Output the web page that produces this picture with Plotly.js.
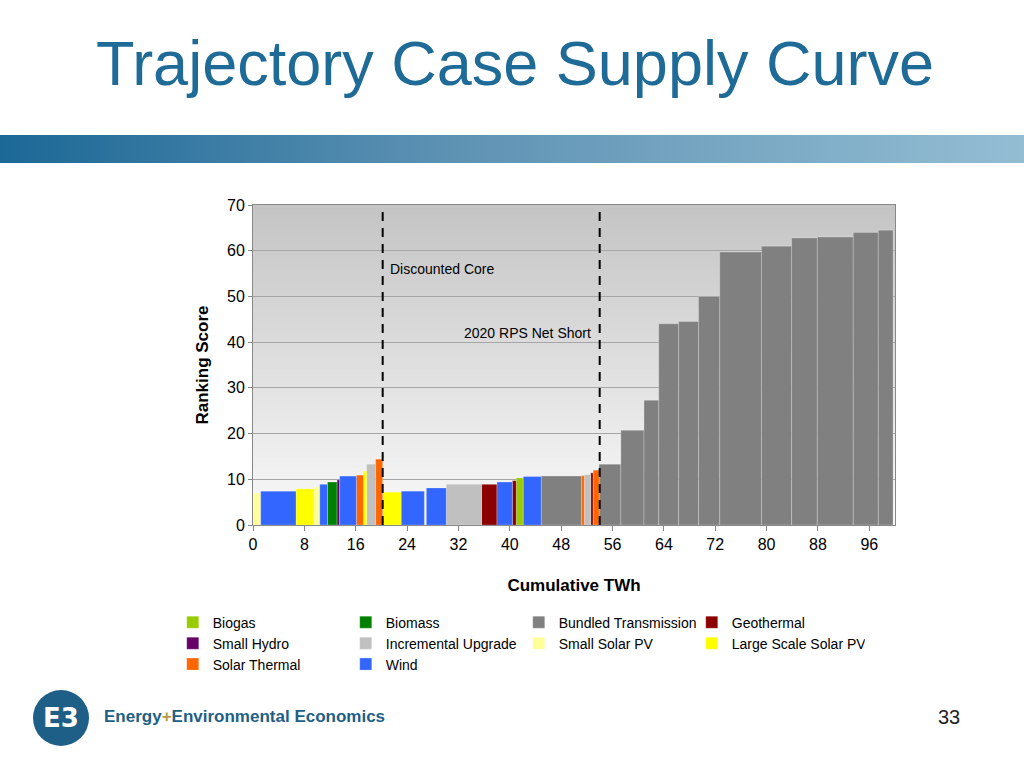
<!DOCTYPE html>
<html>
<head>
<meta charset="utf-8">
<script src="https://cdn.plot.ly/plotly-3.0.1.min.js"></script>
<style>
  body { margin: 0; background: #fff; font-family: Arial, "Liberation Sans", sans-serif; }
  #page { position: relative; width: 1024px; height: 768px; overflow: hidden; }
  #banner { position: absolute; left: 0; top: 135px; width: 1024px; height: 28px;
            background: linear-gradient(to right, #1b6896, #5f93b4 45%, #93bdd3); }
  #plotbg { position: absolute; left: 253px; top: 205px; width: 642px; height: 320px;
            background: linear-gradient(to bottom, #c4c4c4, #fafafa); }
  #title { position: absolute; left: 96px; top: 27px; font-size: 63px; color: #1f6b97; }
  #chart { position: absolute; left: 0; top: 0; width: 1024px; height: 768px; }
  #logo { position: absolute; left: 33px; top: 690px; width: 56px; height: 56px; border-radius: 50%;
          background: #1d5f86; color: #fff; font: bold 26px "DejaVu Sans"; text-align: center; line-height: 56px; }
  #logotext { position: absolute; left: 104px; top: 707px; font: bold 17px "Liberation Sans Narrow", "Liberation Sans"; color: #1d5f86; }
  #logotext span { color: #b89a3e; }
  #pagenum { position: absolute; left: 938px; top: 706px; font-size: 20px; color: #222; }
</style>
</head>
<body>
<div id="page">
  <div id="banner"></div>
  <div id="plotbg"></div>
  <div id="title">Trajectory Case Supply Curve</div>
  <div id="chart"></div>
  <div id="logo">E3</div>
  <div id="logotext">Energy<span>+</span>Environmental Economics</div>
  <div id="pagenum">33</div>
</div>
<script>
// resource blocks along the supply curve (TWh start/end, ranking score, resource type)
const segStart = [0, 1.2, 6.7, 9.5, 10.4, 11.6, 13.1, 13.5, 16.1, 17.2, 17.7, 19.1, 20.2, 23.1, 26.7, 27.0, 30.1, 35.6, 38.0, 40.4, 41.0, 42.1, 44.9, 51.2, 51.6, 52.6, 53.0, 53.9, 57.3, 60.9, 63.2, 66.3, 69.4, 72.7, 79.2, 83.9, 87.9, 93.5, 97.4];
const segEnd   = [1.2, 6.7, 9.5, 10.4, 11.6, 13.1, 13.5, 16.1, 17.2, 17.7, 19.1, 20.2, 23.1, 26.7, 27.0, 30.1, 35.6, 38.0, 40.4, 41.0, 42.1, 44.9, 51.2, 51.6, 52.6, 53.0, 53.9, 57.3, 60.9, 63.2, 66.3, 69.4, 72.7, 79.2, 83.9, 87.9, 93.5, 97.4, 99.7];
const segScore = [7.0, 7.4, 7.9, 8.4, 8.9, 9.4, 9.9, 10.7, 10.9, 11.8, 13.3, 14.4, 7.2, 7.4, 7.8, 8.1, 8.9, 8.9, 9.4, 9.7, 10.3, 10.6, 10.7, 10.8, 11.0, 11.4, 12.0, 13.3, 20.7, 27.3, 44.0, 44.5, 50.0, 59.7, 61.0, 62.8, 63.0, 64.0, 64.5];
const segType  = ["Small Solar PV", "Wind", "Large Scale Solar PV", "Small Solar PV", "Wind", "Biomass", "Small Hydro", "Wind", "Solar Thermal", "Large Scale Solar PV", "Incremental Upgrade", "Solar Thermal", "Large Scale Solar PV", "Wind", "Small Solar PV", "Wind", "Incremental Upgrade", "Geothermal", "Wind", "Geothermal", "Biogas", "Wind", "Bundled Transmission", "Solar Thermal", "Incremental Upgrade", "Geothermal", "Solar Thermal", "Bundled Transmission", "Bundled Transmission", "Bundled Transmission", "Bundled Transmission", "Bundled Transmission", "Bundled Transmission", "Bundled Transmission", "Bundled Transmission", "Bundled Transmission", "Bundled Transmission", "Bundled Transmission", "Bundled Transmission"];

const types  = ["Biogas", "Biomass", "Bundled Transmission", "Geothermal", "Small Hydro", "Incremental Upgrade", "Small Solar PV", "Large Scale Solar PV", "Solar Thermal", "Wind"];
const colors = ["#99cc00", "#008000", "#808080", "#8b0000", "#660066", "#c0c0c0", "#ffff99", "#ffff00", "#ff6600", "#3366ff"];

const markerLines = [20.2, 54.0];
const markerLabels = ["Discounted Core", "2020 RPS Net Short"];

// four legend entries per row, one legend per row
const legendIds = ["legend", "legend2", "legend3"];

const traces = types.map((t, k) => {
    const x = [], y = [], w = [];
    segType.forEach((s, i) => {
        if (s !== t) return;
        x.push((segStart[i] + segEnd[i]) / 2);
        w.push(segEnd[i] - segStart[i]);
        y.push(segScore[i]);
    });
    return {
        x, y, width: w, type: "bar", name: t, legend: legendIds[Math.floor(k / 4)],
        marker: { color: colors[k], line: { width: 0.4, color: "rgba(255,255,255,0.6)" } },
    };
});

const legendRow = (y) => ({
    orientation: "h", x: -0.125, xanchor: "left", y: y, yanchor: "top",
    entrywidth: 128, font: { size: 14 }, itemwidth: 30, traceorder: "normal",
    bgcolor: "rgba(0,0,0,0)",
});

const layout = {
    width: 1024, height: 768,
    paper_bgcolor: "rgba(0,0,0,0)", plot_bgcolor: "rgba(0,0,0,0)",
    margin: { l: 253, r: 129, t: 205, b: 243 },
    font: { family: "Liberation Sans, Arial", color: "#000" },
    barmode: "overlay", bargap: 0,
    xaxis: {
        range: [0, 100], tickvals: [0, 8, 16, 24, 32, 40, 48, 56, 64, 72, 80, 88, 96],
        tickfont: { size: 16 }, ticks: "outside", ticklen: 5, tickcolor: "#888",
        showgrid: false, zeroline: false, showline: true, linecolor: "#888", mirror: true,
        title: { text: "<b>Cumulative TWh</b>", font: { size: 17 }, standoff: 26 },
    },
    yaxis: {
        range: [0, 70], dtick: 10, tickfont: { size: 16 },
        gridcolor: "#a6a6a6", zeroline: false, showline: true, linecolor: "#888", mirror: true,
        ticks: "outside", ticklen: 4, tickcolor: "#888",
        title: { text: "<b>Ranking Score</b>", font: { size: 17 }, standoff: 14 },
    },
    legend: legendRow(-0.255),
    legend2: legendRow(-0.3206),
    legend3: legendRow(-0.386),
    shapes: markerLines.map((v) => ({
        type: "line", x0: v, x1: v, y0: 0, y1: 68.5,
        line: { color: "#000", width: 2, dash: "9px,7px" },
    })),
    annotations: [
        { x: 21.0, y: 56, text: markerLabels[0], showarrow: false, xanchor: "left", font: { size: 14 } },
        { x: 53.0, y: 42, text: markerLabels[1], showarrow: false, xanchor: "right", font: { size: 14 } },
    ],
};

Plotly.newPlot("chart", traces, layout, { displayModeBar: false, staticPlot: true });
</script>
</body>
</html>
